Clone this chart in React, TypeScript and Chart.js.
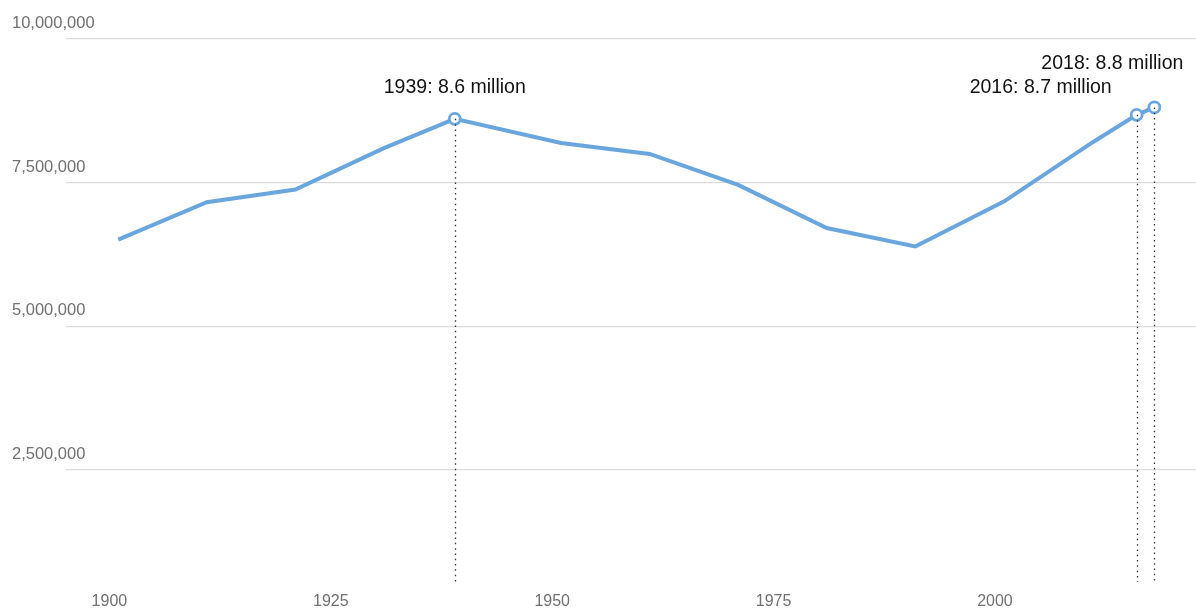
import React, { useEffect, useRef } from "react";
import { Chart, registerables } from "chart.js";

Chart.register(...registerables);

const years = [1901, 1911, 1921, 1931, 1939, 1951, 1961, 1971, 1981, 1991, 2001, 2011, 2016, 2018];
const population = [6510000, 7160000, 7380000, 8100000, 8610000, 8190000, 8000000, 7460000, 6710000, 6390000, 7170000, 8200000, 8680000, 8810000];
const xTicks = [1900, 1925, 1950, 1975, 2000];
const yTicks = [2500000, 5000000, 7500000, 10000000];
const highlightYears = [1939, 2016, 2018];
const highlightLabels = ["1939: 8.6 million", "2016: 8.7 million", "2018: 8.8 million"];

// label placement (styling, not data)
const labelPlacement = [
  { align: "center", dx: 0, dy: -26 },
  { align: "right", dx: -25, dy: -21.5 },
  { align: "right", dx: 29, dy: -38 },
];

const LINE_COLOR = "#6aa6de";
const FONT = "'Liberation Sans', Arial, sans-serif";

export default function App() {
  const ref = useRef<HTMLCanvasElement>(null);

  useEffect(() => {
    if (!ref.current) return;
    const overlay = {
      id: "overlay",
      afterDatasetsDraw(chart: any) {
        const ctx = chart.ctx;
        const xs = chart.scales.x;
        const ys = chart.scales.y;
        const area = chart.chartArea;
        ctx.save();
        // y labels
        ctx.font = `16.5px ${FONT}`;
        ctx.fillStyle = "#707070";
        ctx.textAlign = "left";
        ctx.textBaseline = "alphabetic";
        yTicks.forEach((v) => {
          const y = ys.getPixelForValue(v);
          ctx.fillText(v.toLocaleString("en-US"), 12, y - 11);
        });
        // x labels
        ctx.font = `16px ${FONT}`;
        ctx.textAlign = "center";
        xTicks.forEach((v) => {
          ctx.fillText(String(v), xs.getPixelForValue(v), 605.5);
        });
        // dotted drop lines
        ctx.strokeStyle = "#333";
        ctx.lineWidth = 1.3;
        ctx.setLineDash([1.5, 3.8]);
        highlightYears.forEach((yr) => {
          const i = years.indexOf(yr);
          const px = Math.round(xs.getPixelForValue(yr)) + 0.5;
          const py = ys.getPixelForValue(population[i]);
          ctx.beginPath();
          ctx.moveTo(px, py);
          ctx.lineTo(px, area.bottom);
          ctx.stroke();
        });
        ctx.setLineDash([]);
        // annotation labels
        ctx.font = `19.5px ${FONT}`;
        ctx.fillStyle = "#111";
        highlightYears.forEach((yr, k) => {
          const i = years.indexOf(yr);
          const px = xs.getPixelForValue(yr);
          const py = ys.getPixelForValue(population[i]);
          const p = labelPlacement[k];
          ctx.textAlign = p.align as CanvasTextAlign;
          ctx.fillText(highlightLabels[k], px + p.dx, py + p.dy);
        });
        ctx.restore();
      },
    };

    const chart = new Chart(ref.current, {
      type: "line",
      data: {
        datasets: [
          {
            data: years.map((y, i) => ({ x: y, y: population[i] })),
            borderColor: LINE_COLOR,
            borderWidth: 4,
            tension: 0,
            pointRadius: years.map((y) => (highlightYears.includes(y) ? 5.5 : 0)),
            pointBackgroundColor: "#ffffff",
            pointBorderColor: LINE_COLOR,
            pointBorderWidth: 2.8,
            clip: false as any,
          },
        ],
      },
      options: {
        animation: false,
        responsive: false,
        layout: { autoPadding: false, padding: { left: 66, top: 39, right: 0, bottom: 26 } },
        plugins: { legend: { display: false }, tooltip: { enabled: false } },
        scales: {
          x: {
            type: "linear",
            display: false,
            min: 1895.1,
            max: 2022.7,
          },
          y: {
            type: "linear",
            min: 550000,
            max: 10000000,
            border: { display: false },
            ticks: { display: false, stepSize: 2500000 },
            afterBuildTicks: (scale: any) => {
              scale.ticks = yTicks.map((v) => ({ value: v }));
            },
            grid: { color: "#dcdcdc", lineWidth: 1.2, drawTicks: false },
          },
        },
      },
      plugins: [overlay],
    });
    return () => chart.destroy();
  }, []);

  return (
    <div style={{ position: "absolute", left: 0, top: 0, width: 1196, height: 608, background: "#fff" }}>
      <canvas ref={ref} width={1196} height={608} style={{ display: "block" }} />
    </div>
  );
}
